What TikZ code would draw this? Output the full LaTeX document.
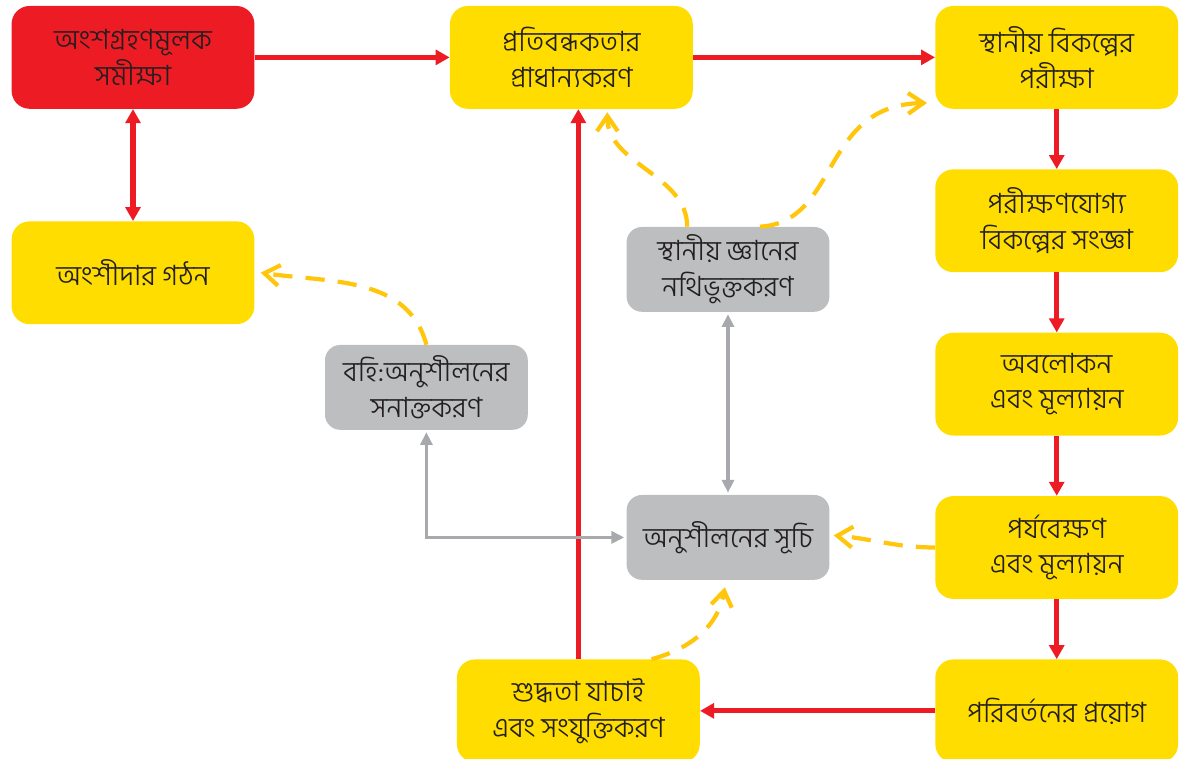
\documentclass[tikz,border=0pt]{standalone}
\usepackage{fontspec}
\newfontfamily\bn[Script=Bengali]{Hind Siliguri Light}
\usetikzlibrary{arrows.meta, positioning, calc}
\definecolor{boxred}{HTML}{ED1C24}
\definecolor{boxyellow}{HTML}{FFDD00}
\definecolor{boxgray}{HTML}{BCBEC0}
\definecolor{linegray}{HTML}{A7A9AC}
\definecolor{dashyellow}{HTML}{FFC60B}
\definecolor{txt}{HTML}{231F20}

\begin{document}
\begin{tikzpicture}[
    node distance=1.5cm,
    box/.style={rectangle, rounded corners=0.45cm, minimum width=6.07cm, minimum height=2.57cm, align=center, fill=boxyellow, text=txt, font=\bn\fontsize{20}{25.5}\selectfont},
    smallbox/.style={box, fill=boxgray, minimum width=5.07cm, minimum height=2.12cm, rounded corners=0.38cm},
    arrow/.style={->, >={Triangle[length=3.5mm, width=3.7mm]}, line width=3.6pt, boxred},
    greyarrow/.style={<->, >={Triangle[length=3.2mm, width=3mm]}, line width=2.6pt, linegray, shorten <=1.5pt, shorten >=1.5pt},
    dasharrow/.style={-{Straight Barb[length=3.8mm, width=5.2mm]}, line width=3pt, dashyellow, dash pattern=on 4.8mm off 3.3mm},
]

\useasboundingbox (0,0) rectangle (29.725,18.975);

\node[box, fill=boxred] (survey) at (3.325,17.54) {অংশগ্রহণমূলক\\সমীক্ষা};
\node[box, below=2.8cm of survey] (partner) {অংশীদার গঠন};
\node[box, right=4.875cm of survey] (priority) {প্রতিবন্ধকতার\\প্রাধান্যকরণ};
\node[box, right=6.05cm of priority] (testing) {স্থানীয় বিকল্পের\\পরীক্ষা};
\node[box, below=of testing] (define) {পরীক্ষণযোগ্য\\বিকল্পের সংজ্ঞা};
\node[box, below=of define] (observe) {অবলোকন\\এবং মূল্যায়ন};
\node[box, below=of observe] (monitor) {পর্যবেক্ষণ\\এবং মূল্যায়ন};
\node[box, below=of monitor] (apply) {পরিবর্তনের প্রয়োগ};
\node[box, left=5.875cm of apply] (verify) {শুদ্ধতা যাচাই\\এবং সংযুক্তিকরণ};
\node[smallbox] (external) at (10.66,9.29) {বহি:অনুশীলনের\\সনাক্তকরণ};
\node[smallbox] (local) at (18.2,12.24) {স্থানীয় জ্ঞানের\\নথিভুক্তকরণ};
\node[smallbox] (list) at (18.2,5.54) {অনুশীলনের সূচি};

\draw[arrow] (survey) -- (priority);
\draw[arrow] (priority) -- (testing);
\draw[arrow, <->] (partner.north) -- (partner.north |- survey.south);
\draw[arrow] (testing) -- (define);
\draw[arrow] (define) -- (observe);
\draw[arrow] (observe) -- (monitor);
\draw[arrow] (monitor) -- (apply);
\draw[arrow] (apply) -- (verify);
\draw[arrow] (verify.north) -- (verify.north |- priority.south);

\draw[greyarrow] (local) -- (list);
\draw[greyarrow] (external.south) |- (list.west);

\draw[dasharrow] (external.north) to[out=105, in=-8] ([xshift=0.15cm]partner.east);
\draw[dasharrow] ([xshift=-1.02cm]local.north) .. controls +(0,1.3) and +(0,-1.3) .. ([xshift=0.9cm, yshift=-0.08cm]priority.south);
\draw[dasharrow] ([xshift=0.8cm]local.north) .. controls +(2,0.12) and +(-2.68,-0.05) .. ($(testing.west)+(-0.2,-1.14)$);
\draw[dasharrow] (monitor.west) to[out=180, in=-5] ([xshift=0.1cm, yshift=0.05cm]list.east);
\draw[dasharrow] ([xshift=1.83cm]verify.north) to[out=15, in=-100] ([xshift=-0.08cm, yshift=-0.18cm]list.south);

\end{tikzpicture}
\end{document}
